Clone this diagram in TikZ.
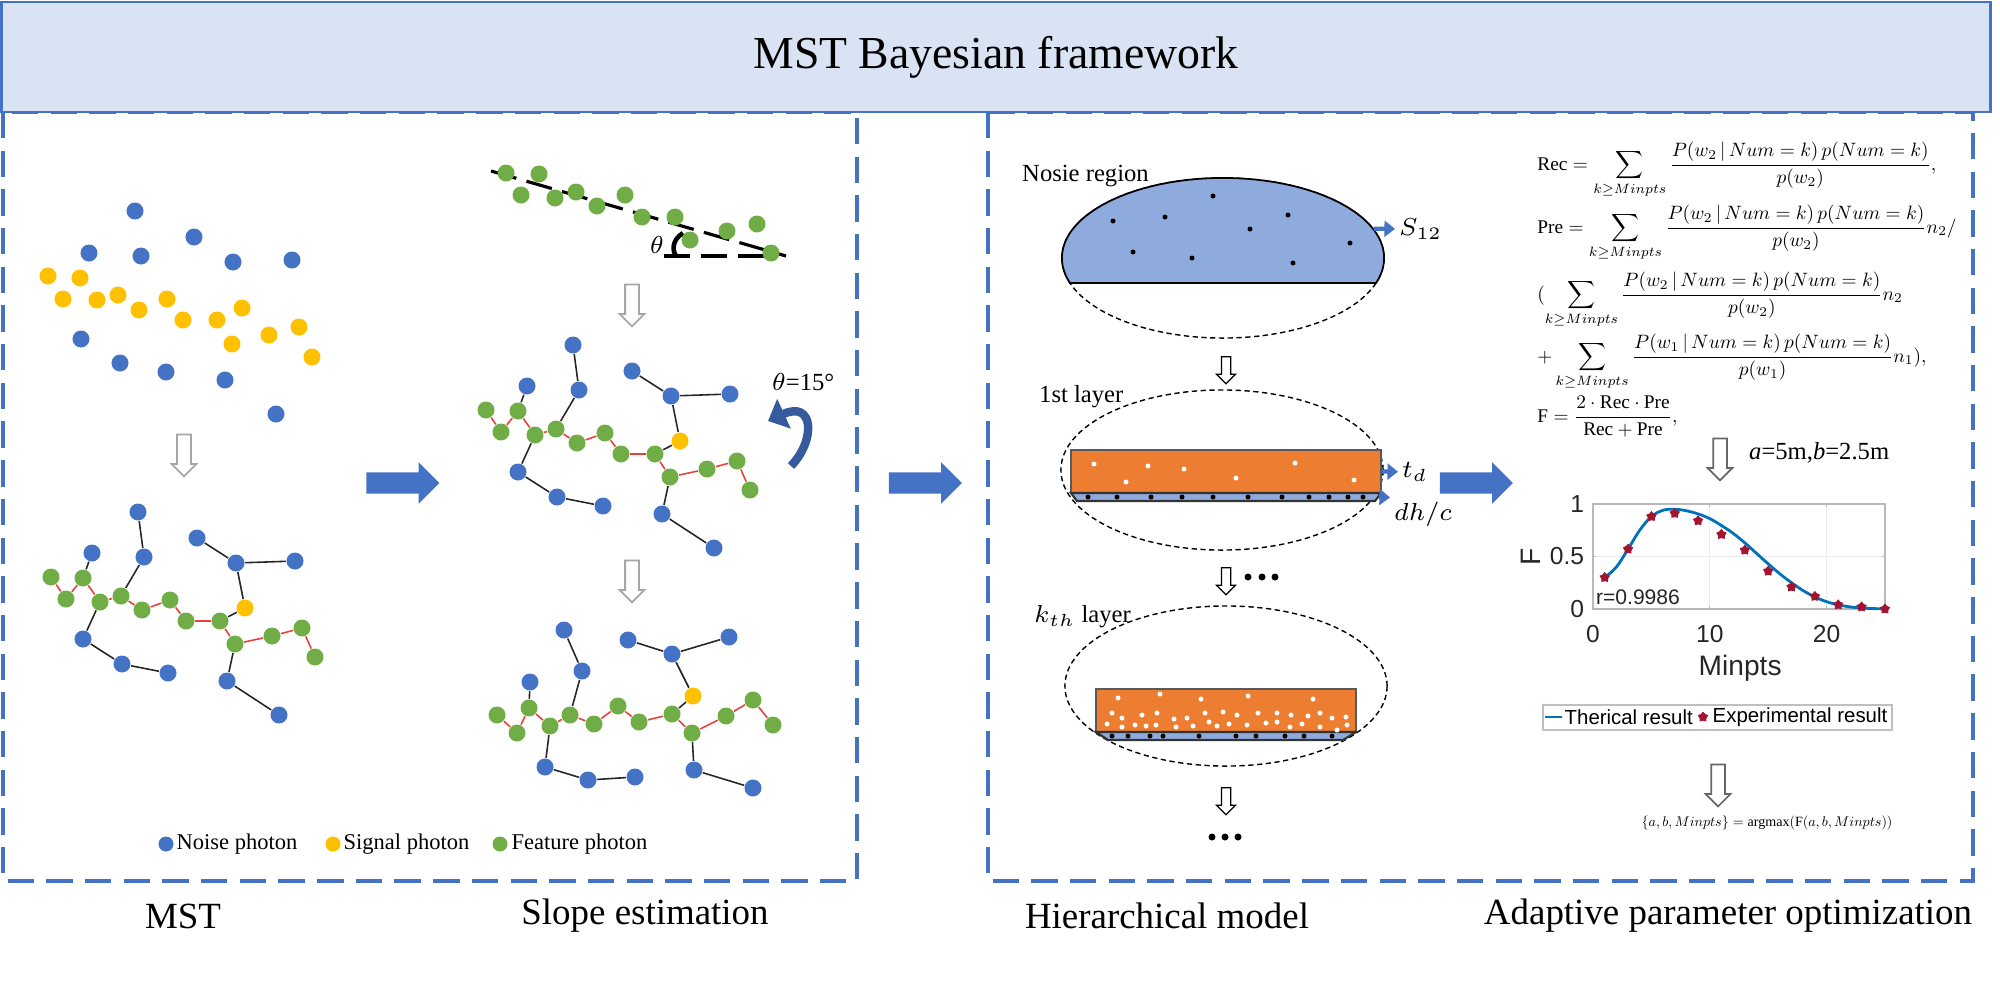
\documentclass[tikz,border=0pt]{standalone}
\usepackage{fontspec}
\setmainfont{Liberation Serif}
\setsansfont{Liberation Sans}
\usetikzlibrary{shapes.geometric,shapes.arrows,arrows.meta}

\definecolor{noiseblue}{HTML}{4472C4}
\definecolor{signalyellow}{HTML}{FFC000}
\definecolor{featgreen}{HTML}{70AD47}
\definecolor{titlefill}{HTML}{DAE3F3}
\definecolor{regionblue}{HTML}{8FAADC}
\definecolor{layerorange}{HTML}{ED7D31}
\definecolor{curveblue}{HTML}{0072BD}
\definecolor{stardark}{HTML}{A2142F}
\definecolor{edgered}{HTML}{E8413C}

\tikzset{
  photon/.style={circle, inner sep=0pt, minimum size=0.17cm},
  noise/.style={photon, fill=noiseblue},
  signal/.style={photon, fill=signalyellow},
  feature/.style={photon, fill=featgreen},
  treeline/.style={draw=black!85, line width=0.45pt},
  featline/.style={draw=edgered, line width=0.45pt},
  panel/.style={draw=noiseblue, line width=0.9pt, dash pattern=on 7.5pt off 3.5pt},
  titlebar/.style={draw=noiseblue, fill=titlefill, line width=0.8pt, inner sep=0pt,
    minimum width=19.88cm, minimum height=1.1cm, font=\fontsize{13}{15}\selectfont},
  caption/.style={font=\fontsize{10.5}{12}\selectfont, inner sep=0pt},
  hollow/.style={single arrow, draw=gray!70, fill=white, line width=0.5pt,
    inner xsep=0.06cm, inner ysep=0pt, shape border rotate=270,
    minimum height=0.42cm, single arrow head extend=0.055cm},
  hollowk/.style={hollow, draw=black, line width=0.35pt, inner xsep=0.04cm,
    minimum height=0.27cm, single arrow head extend=0.05cm},
  bigarrow/.style={single arrow, fill=noiseblue, inner xsep=0pt, inner ysep=0.1cm,
    minimum height=0.73cm, single arrow head extend=0.1cm},
  slopeline/.style={line width=0.9pt, dash pattern=on 7.5pt off 3pt},
  rotarrow/.style={draw=noiseblue!80!black, line width=2.4pt,
    -{Triangle[length=5pt, width=9pt]}},
  lab/.style={font=\fontsize{7}{8}\selectfont, inner sep=1pt},
  keydot/.style={circle, inner sep=0pt, minimum size=0.15cm},
  keytext/.style={font=\fontsize{6.4}{7}\selectfont, inner sep=0pt, anchor=west},
  layerell/.style={ellipse, draw, dash pattern=on 1.5pt off 1pt, line width=0.4pt,
    inner sep=0pt, minimum width=3.22cm, minimum height=1.6cm},
  layerbox/.style={draw=gray!70!black, fill=layerorange, inner sep=0pt, line width=0.5pt},
  strip/.style={fill=regionblue, draw=black!80, line width=0.6pt},
  smallarr/.style={draw=noiseblue, line width=1.2pt, -{Triangle[length=3pt, width=4.5pt]}},
  formula/.style={font=\fontsize{10}{12}\selectfont, scale=0.55, inner sep=0pt, anchor=base west},
  ticklab/.style={font=\sffamily\fontsize{7}{8}\selectfont, text=black!85, inner sep=0pt},
  plotaxis/.style={draw=gray!55, line width=0.4pt},
  plotgrid/.style={draw=gray!15, line width=0.3pt},
  theory/.style={draw=curveblue, line width=0.8pt},
  expstar/.style={star, star points=5, fill=stardark, inner sep=0pt, minimum size=0.11cm},
  legtext/.style={font=\sffamily\fontsize{5.8}{7}\selectfont, inner sep=0pt, anchor=west}
}

% edges of the photon tree, same topology in every panel
\newcommand{\treeedges}[1]{%
  \foreach \a/\b in {g1/g2,g2/g3,g3/g4,g4/g5,g5/g6,g6/g7,g7/g8,g8/g9,g9/g10,g10/g11,g11/g12,g12/g13}
    \draw[featline] (#1\a) -- (#1\b);
  \foreach \a/\b in {b1/b2,b2/g5,b3/g3,b4/b5,b5/b6,b5/s,s/g9,g4/b7,b7/b8,b8/b9,g10/b10,b10/b11}
    \draw[treeline] (#1\a) -- (#1\b);
}

\begin{document}
\begin{tikzpicture}[x=0.01cm, y=-0.01cm]
\useasboundingbox (0,0) rectangle (2000,981);

% frames
\draw[panel] (3,112) rectangle (857,881);
\draw[panel] (988,112) rectangle (1973,881);
\node[titlebar] (title) at (996,57) {MST Bayesian framework};

% raw photons
\foreach \x/\y in {135/211,194/237,89/253,141/256,233/262,292/260,81/339,120/363,166/372,225/380,276/414}
  \fill[noiseblue] (\x,\y) circle (0.085cm);
\foreach \x/\y in {48/276,80/278,63/299,97/300,118/295,139/310,167/299,183/320,217/320,242/308,232/344,269/335,299/327,312/357}
  \fill[signalyellow] (\x,\y) circle (0.085cm);
\node[hollow] (down1) at (184,452) {};

% MST
\foreach \n/\x/\y in {b1/138/512,b2/144/557,b3/92/553,b4/197/538,b5/236/563,b6/295/561,b7/83/639,b8/122/664,b9/168/673,b10/227/681,b11/279/715}
  \node[noise] (m\n) at (\x,\y) {};
\node[signal] (ms) at (245,608) {};
\foreach \n/\x/\y in {g1/51/577,g2/66/599,g3/83/578,g4/100/602,g5/121/596,g6/142/610,g7/170/600,g8/186/621,g9/220/621,g10/235/644,g11/272/636,g12/302/628,g13/315/657}
  \node[feature] (m\n) at (\x,\y) {};
\treeedges{m}

\node[bigarrow] (flow1) at (397.5,483) {};

% slope of the feature photons
\draw[slopeline] (491,171) -- (786,256);
\draw[slopeline] (664,256) -- (772,256);
\draw[line width=1.3pt] (683,233) .. controls (672,240) and (672,250) .. (676,256);
\node[lab] (thetalab) at (657,245) {$\theta$};
\foreach \x/\y in {506/173,539/174,521/195,555/198,576/192,597/206,625/195,642/217,675/217,690/240,727/231,757/224,771/253}
  \fill[featgreen] (\x,\y) circle (0.085cm);
\node[hollow] (down2) at (632,302) {};

% tree before rotation
\begin{scope}[shift={(435,-167)}]
\foreach \n/\x/\y in {b1/138/512,b2/144/557,b3/92/553,b4/197/538,b5/236/563,b6/295/561,b7/83/639,b8/122/664,b9/168/673,b10/227/681,b11/279/715}
  \node[noise] (t\n) at (\x,\y) {};
\node[signal] (ts) at (245,608) {};
\foreach \n/\x/\y in {g1/51/577,g2/66/599,g3/83/578,g4/100/602,g5/121/596,g6/142/610,g7/170/600,g8/186/621,g9/220/621,g10/235/644,g11/272/636,g12/302/628,g13/315/657}
  \node[feature] (t\n) at (\x,\y) {};
\end{scope}
\treeedges{t}

\draw[rotarrow] (791,466) .. controls (816,440) and (814,400) .. (768,421);
\node[lab] (rotlab) at (803,382) {$\theta$=15°};
\node[hollow] (down3) at (632,578) {};

% tree after rotation
\foreach \n/\x/\y in {b1/564/630,b2/582/671,b3/530/682,b4/628/640,b5/672/654,b6/729/637,b7/545/767,b8/588/780,b9/635/777,b10/694/770,b11/753/788}
  \node[noise] (r\n) at (\x,\y) {};
\node[signal] (rs) at (693,696) {};
\foreach \n/\x/\y in {g1/497/715,g2/517/733,g3/529/708,g4/550/726,g5/570/715,g6/594/724,g7/618/706,g8/639/722,g9/672/714,g10/692/733,g11/726/716,g12/753/700,g13/773/725}
  \node[feature] (r\n) at (\x,\y) {};
\treeedges{r}

% key
\node[keydot, fill=noiseblue] (keynoise) at (166,844) {};
\node[keytext] (keynoisetxt) at (176,844) {Noise photon};
\node[keydot, fill=signalyellow] (keysignal) at (333,844) {};
\node[keytext] (keysignaltxt) at (343,844) {Signal photon};
\node[keydot, fill=featgreen] (keyfeat) at (500,844) {};
\node[keytext] (keyfeattxt) at (511,844) {Feature photon};

\node[bigarrow] (flow2) at (920,483) {};

% hierarchical model
\node[lab, anchor=west] (noiselab) at (1018,176) {Nosie region};
\node[layerell] (noise) at (1223,258) {};
\begin{scope}
\clip (1040,150) rectangle (1400,283);
\filldraw[fill=regionblue, draw=black, line width=0.5pt] (noise.center) ellipse [x radius=1.61cm, y radius=0.8cm];
\end{scope}
\draw[line width=0.5pt] (1070,283) -- (1376,283);
\foreach \x/\y in {1113/221,1165/217,1213/196,1250/229,1288/215,1350/243,1133/252,1192/258,1293/263}
  \fill (\x,\y) circle (0.025cm);
\node[lab, anchor=west] (s12) at (1395,229) {$S_{12}$};
\draw[smallarr] (noise.11) -- (s12);

\node[hollowk] (down4) at (1226,368) {};
\node[lab, anchor=west] (lay1lab) at (1035,397) {1st layer};
\node[layerell] (lay1) at (1222,470) {};
\node[layerbox, minimum width=3.1cm, minimum height=0.43cm] (box1) at (1226,471.5) {};
\filldraw[strip] (1071,493) -- (1381,493) -- (1375,501) -- (1077,501) -- cycle;
\foreach \x/\y in {1094/464,1148/466,1184/469,1126/482,1236/478,1295/463,1354/480}
  \fill[white] (\x,\y) circle (0.025cm);
\foreach \x in {1088,1117,1151,1182,1213,1248,1282,1309,1329,1348,1363}
  \fill (\x,497) circle (0.025cm);
\node[lab, anchor=west] (tdlab) at (1398,472) {$t_d$};
\draw[smallarr] (box1.east) -- (tdlab);
\coordinate (edge1) at (1379,497);
\node[lab, anchor=west] (dhclab) at (1390,514) {$dh/c$};
\draw[smallarr] (edge1) -- (dhclab.north west);

\node[hollowk] (down5) at (1226,579) {};
\foreach \x in {1248,1262,1275}
  \fill (\x,577) circle (0.035cm);
\node[lab, anchor=west] (laykl) at (1030,617) {$k_{th}$ layer};
\node[layerell] (layk) at (1226,686) {};
\node[layerbox, minimum width=2.6cm, minimum height=0.43cm] (boxk) at (1226,710.5) {};
\filldraw[strip] (1096,732) -- (1356,732) -- (1343,740) -- (1108,740) -- cycle;
\foreach \x/\y in {1118/698,1160/694,1201/699,1248/696,1313/699,
  1112/713,1122/718,1142/715,1157/713,1174/719,1187/718,1205/713,1223/712,1237/715,1258/713,1277/713,1291/715,1308/716,1320/713,1332/718,1346/717,
  1107/724,1122/727,1135/725,1146/726,1156/725,1176/727,1193/726,1209/722,1217/726,1229/724,1247/725,1266/723,1277/722,1290/727,1302/724,1320/727,1337/730,1347/725}
  \fill[white] (\x,\y) circle (0.025cm);
\foreach \x in {1112,1128,1150,1163,1199,1236,1256,1285,1304,1332}
  \fill (\x,736) circle (0.025cm);
\node[hollowk] (down6) at (1226,799) {};
\foreach \x in {1212,1225,1238}
  \fill (\x,837) circle (0.035cm);

\node[bigarrow] (flow3) at (1471,483) {};

% parameter optimisation
\node[formula] (rec) at (1537,170) {$\displaystyle \textrm{Rec}=\sum_{k\geq Minpts}\frac{P(w_2\,|\,Num=k)\,p(Num=k)}{p(w_2)},$};
\node[formula] (pre) at (1537,233) {$\displaystyle \textrm{Pre}=\sum_{k\geq Minpts}\frac{P(w_2\,|\,Num=k)\,p(Num=k)}{p(w_2)}n_2/$};
\node[formula] (pre2) at (1537,300) {$\displaystyle (\sum_{k\geq Minpts}\frac{P(w_2\,|\,Num=k)\,p(Num=k)}{p(w_2)}n_2$};
\node[formula] (pre3) at (1537,362) {$\displaystyle +\sum_{k\geq Minpts}\frac{P(w_1\,|\,Num=k)\,p(Num=k)}{p(w_1)}n_1),$};
\node[formula] (fscore) at (1537,422) {$\displaystyle \textrm{F}=\frac{2\cdot\textrm{Rec}\cdot\textrm{Pre}}{\textrm{Rec}+\textrm{Pre}},$};
\node[hollow, draw=gray!80!black] (down7) at (1720,456) {};
\node[lab, anchor=west] (ablab) at (1745,453) {\textit{a}=5m,\textit{b}=2.5m};

\begin{scope}[shift={(1593,609)}, x=0.1167cm, y=1.05cm]
\draw[plotgrid] (10,0) -- (10,1) (20,0) -- (20,1) (0,0.5) -- (25,0.5);
\draw[plotaxis] (0,0) rectangle (25,1);
\foreach \t in {10,20}
  \draw[plotaxis] (\t,0) -- (\t,0.025) (\t,1) -- (\t,0.975);
\draw[plotaxis] (0,0.5) -- (0.25,0.5) (25,0.5) -- (24.75,0.5);
\draw[theory] plot[smooth, tension=0.6] coordinates {(1,0.30) (2,0.40) (3,0.57) (4,0.75) (5,0.88) (6,0.94) (7,0.95) (8,0.935) (9,0.905) (10,0.86) (11,0.795) (12,0.72) (13,0.63) (14,0.53) (15,0.43) (16,0.335) (17,0.25) (18,0.175) (19,0.115) (20,0.07) (21,0.04) (22,0.02) (23,0.01) (24,0.004) (25,0.002)};
\foreach \x/\y [count=\i] in {1/0.30,3/0.57,5/0.88,7/0.91,9/0.84,11/0.71,13/0.56,15/0.36,17/0.21,19/0.12,21/0.04,23/0.02,25/0.0}
  \node[expstar] (star\i) at (\x,\y) {};
\foreach \t in {0,10,20}
  \node[ticklab, anchor=north] (xt\t) at (\t,-0.15) {\t};
\node[ticklab, anchor=east] (yt1) at (-0.7,1) {1};
\node[ticklab, anchor=east] (yt05) at (-0.7,0.5) {0.5};
\node[ticklab, anchor=east] (yt0) at (-0.7,0) {0};
\node[ticklab, font=\sffamily\fontsize{8}{9}\selectfont] (xlab) at (12.6,-0.56) {Minpts};
\node[ticklab, font=\sffamily\fontsize{8}{9}\selectfont, rotate=90] (ylab) at (-5.3,0.5) {F};
\node[ticklab, font=\sffamily\fontsize{6}{7}\selectfont, anchor=west] (rlab) at (0.2,0.11) {r=0.9986};
\end{scope}

\draw[draw=gray!50, line width=0.4pt] (1543,705) rectangle (1892,730);
\draw[theory] (1545,717) -- (1562,717);
\node[legtext] (thlab) at (1564,717) {Therical result};
\node[expstar] (legstar) at (1703,717) {};
\node[legtext] (exlab) at (1712,717) {Experimental result};

\node[hollow, draw=gray!80!black] (down8) at (1718,782) {};
\node[font=\fontsize{10}{12}\selectfont, scale=0.4, inner sep=0pt] (argmax) at (1767,823) {$\{a,b,Minpts\}=\textrm{argmax}(\textrm{F}(a,b,Minpts))$};

% captions
\node[caption] (capmst) at (183,916) {MST};
\node[caption] (capslope) at (645,916) {Slope estimation};
\node[caption] (caphier) at (1167,916) {Hierarchical model};
\node[caption] (capopt) at (1728,916) {Adaptive parameter optimization};
\end{tikzpicture}
\end{document}
